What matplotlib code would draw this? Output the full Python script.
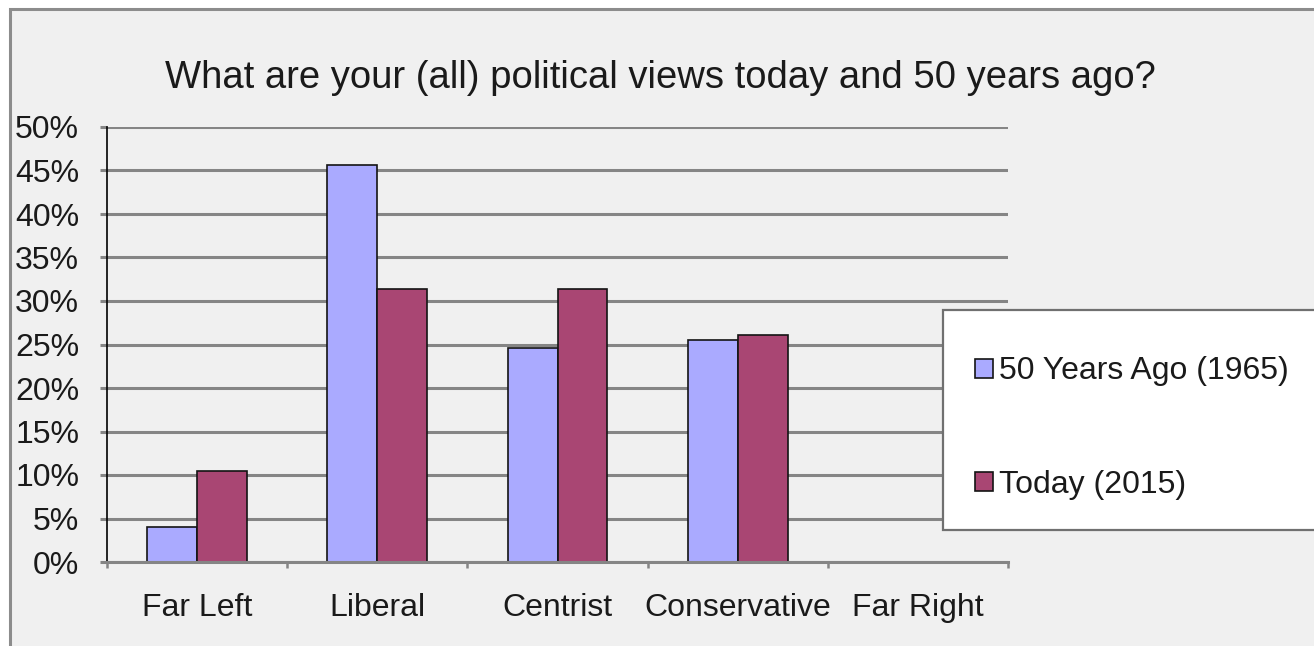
import numpy as np
import matplotlib
matplotlib.use("Agg")
import matplotlib.pyplot as plt
from matplotlib.patches import Rectangle
from matplotlib.ticker import FuncFormatter

plt.rcParams['font.family'] = ['Liberation Sans', 'DejaVu Sans']

# data
categories = ['Far Left', 'Liberal', 'Centrist', 'Conservative', 'Far Right']
ago_1965 = [4.0, 45.6, 24.6, 25.5, 0.0]
today_2015 = [10.5, 31.4, 31.4, 26.1, 0.0]
series_names = ['50 Years Ago (1965)', 'Today (2015)']
yticks = np.arange(0, 51, 5)

W, H = 1314, 646
fig = plt.figure(figsize=(W / 100, H / 100), dpi=100, facecolor='white')

# chart frame (cut off on the right and bottom like the screenshot)
fig.patches.append(Rectangle((10 / W, -0.2), 1.2, 1.2 - 8.5 / H,
                             transform=fig.transFigure, facecolor='#f0f0f0',
                             edgecolor='#8c8c8c', lw=2.2, zorder=-10))

ax = fig.add_axes([107 / W, 1 - 562 / H, (1008 - 107) / W, (562 - 127) / H])
ax.set_facecolor('none')

x = np.arange(len(categories))
w = 0.277
b1 = ax.bar(x - w / 2, ago_1965, w, color='#aaaaff', edgecolor='#141414', lw=1.2, zorder=2)
b2 = ax.bar(x + w / 2, today_2015, w, color='#a94673', edgecolor='#141414', lw=1.2, zorder=2)

ax.set_xlim(-0.5, len(categories) - 0.5)
ax.set_ylim(0, 50)
ax.set_yticks(yticks)
ax.yaxis.set_major_formatter(FuncFormatter(lambda v, p: f'{v:.0f}%'))
ax.grid(axis='y', color='#858585', lw=2.2, zorder=0)
ax.set_axisbelow(True)

for s in ['top', 'right']:
    ax.spines[s].set_visible(False)
ax.spines['left'].set_color('black')
ax.spines['left'].set_linewidth(1.2)
ax.spines['left'].set_zorder(3)
ax.spines['bottom'].set_color('#858585')
ax.spines['bottom'].set_linewidth(2.2)
ax.spines['bottom'].set_zorder(3)

ax.tick_params(axis='y', length=5, width=2.2, color='#858585', pad=15,
               labelsize=23, labelcolor='#1a1a1a')
ax.set_xticks(x)
ax.set_xticklabels(categories)
ax.set_xticks(np.arange(-0.5, len(categories)), minor=True)
ax.tick_params(axis='x', which='major', length=0, pad=22, labelsize=23, labelcolor='#1a1a1a')
ax.tick_params(axis='x', which='minor', length=4, width=1.8, color='#858585')

fig.text(660 / W, 1 - 78 / H, 'What are your (all) political views today and 50 years ago?',
         ha='center', va='center', fontsize=27.5, color='#1a1a1a')

# legend box
fig.patches.append(Rectangle((943 / W, 1 - 530 / H), 0.4, 220 / H,
                             transform=fig.transFigure, facecolor='white',
                             edgecolor='#707070', lw=1.6, zorder=5))
leg = fig.legend([b1, b2], series_names, loc='center left',
                 bbox_to_anchor=(959 / W, 1 - 428 / H), frameon=False,
                 fontsize=23, handlelength=0.55, handleheight=0.55,
                 handletextpad=0.2, labelspacing=2.6, borderpad=0)
leg.set_zorder(6)
for t in leg.get_texts():
    t.set_color('#1a1a1a')

fig.savefig('out.png', dpi=100, facecolor='white')
